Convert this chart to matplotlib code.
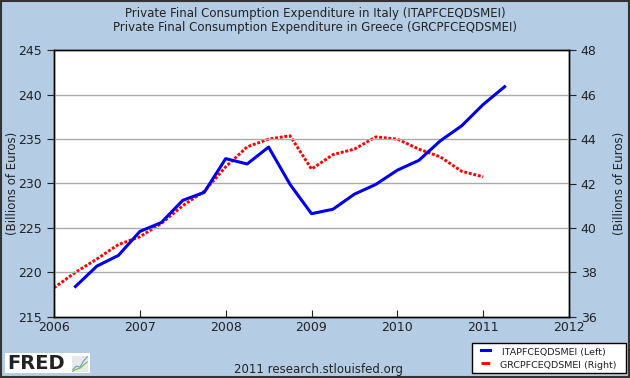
import matplotlib.pyplot as plt
from matplotlib.patches import Rectangle
from matplotlib.lines import Line2D

# quarterly dates (FRED plots at quarter start)
italy_dates = [2006.25, 2006.5, 2006.75, 2007.0, 2007.25, 2007.5, 2007.75,
               2008.0, 2008.25, 2008.5, 2008.75, 2009.0, 2009.25, 2009.5,
               2009.75, 2010.0, 2010.25, 2010.5, 2010.75, 2011.0, 2011.25]
italy = [218.4, 220.7, 221.9, 224.6, 225.6, 228.1, 229.0,
         232.8, 232.2, 234.1, 229.9, 226.6, 227.1, 228.8,
         229.9, 231.5, 232.6, 234.8, 236.5, 238.9, 240.9]

greece_dates = [2006.0, 2006.25, 2006.5, 2006.75, 2007.0, 2007.25, 2007.5,
                2007.75, 2008.0, 2008.25, 2008.5, 2008.75, 2009.0, 2009.25,
                2009.5, 2009.75, 2010.0, 2010.25, 2010.5, 2010.75, 2011.0]
greece = [37.3, 38.0, 38.6, 39.25, 39.6, 40.2, 41.0,
          41.65, 42.75, 43.65, 44.0, 44.15, 42.65, 43.3,
          43.55, 44.1, 44.0, 43.55, 43.2, 42.55, 42.3]

years = [2006, 2007, 2008, 2009, 2010, 2011, 2012]
left_ticks = [215, 220, 225, 230, 235, 240, 245]
right_ticks = [36, 38, 40, 42, 44, 46, 48]

bg = '#b4cde5'
txt = '#222222'

fig = plt.figure(figsize=(6.3, 3.78), dpi=100, facecolor=bg)
ax = fig.add_axes([54 / 630, 1 - 316.7 / 378, 515 / 630, 266.4 / 378])
ax2 = ax.twinx()

ax.set_xlim(2006, 2012)
ax.set_ylim(215, 245)
ax2.set_ylim(36, 48)
ax.set_xticks(years)
ax.set_yticks(left_ticks)
ax2.set_yticks(right_ticks)

for y in left_ticks[1:-1]:
    ax.axhline(y, color='#aaaaaa', lw=1, zorder=1)

ax.plot(italy_dates, italy, color='#0000ee', lw=2.2, zorder=3)
ax2.plot(greece_dates, greece, color='#ff0000', lw=2.1, ls=(0, (1, 0.6)), zorder=3)
ax.set_zorder(ax2.get_zorder() + 1)
ax.patch.set_visible(False)
ax2.patch.set_visible(True)
ax2.patch.set_facecolor('white')

for a in (ax, ax2):
    for s in a.spines.values():
        s.set_color('black')
        s.set_linewidth(1)
ax.tick_params(axis='x', direction='in', length=5, labelsize=9, colors=txt, pad=3)
ax.tick_params(axis='y', direction='out', length=5, labelsize=9, colors=txt)
ax2.tick_params(axis='y', direction='out', length=5, labelsize=9, colors=txt)

ax.set_ylabel('(Billions of Euros)', fontsize=8.5, color=txt)
ax.yaxis.set_label_coords((19 - 54) / 515, 0.5)
ax2.set_ylabel('(Billions of Euros)', fontsize=8.5, color=txt)
ax2.yaxis.set_label_coords((613 - 54) / 515, 0.5)

fig.text(0.5, 1 - 13 / 378, 'Private Final Consumption Expenditure in Italy (ITAPFCEQDSMEI)',
         ha='center', va='center', fontsize=8.5, color=txt)
fig.text(0.5, 1 - 27 / 378, 'Private Final Consumption Expenditure in Greece (GRCPFCEQDSMEI)',
         ha='center', va='center', fontsize=8.5, color=txt)
fig.text(319 / 630, 1 - 369 / 378, '2011 research.stlouisfed.org',
         ha='center', va='center', fontsize=8.5, color=txt)

# legend box
fig.patches.append(Rectangle((471.7 / 630, 1 - 373.3 / 378), 154 / 630, 30 / 378,
                             transform=fig.transFigure, facecolor='white',
                             edgecolor='black', lw=1))
fig.lines.append(Line2D([481 / 630, 490 / 630], [1 - 350 / 378] * 2,
                        transform=fig.transFigure, color='#0000ee', lw=2.2))
fig.lines.append(Line2D([481 / 630, 491 / 630], [1 - 363 / 378] * 2,
                        transform=fig.transFigure, color='#ff0000', lw=2.1,
                        ls=(0, (3, 2))))
fig.text(502 / 630, 1 - 353 / 378, 'ITAPFCEQDSMEI (Left)', fontsize=6.8, color=txt, va='center')
fig.text(500 / 630, 1 - 366 / 378, 'GRCPFCEQDSMEI (Right)', fontsize=6.8, color=txt, va='center')

# FRED logo
fig.patches.append(Rectangle((5 / 630, 1 - 373 / 378), 85 / 630, 20 / 378,
                             transform=fig.transFigure, facecolor='white', edgecolor='none'))
fig.text(7 / 630, 1 - 363.5 / 378, 'FRED', fontsize=14, fontweight='bold',
         color='#222222', va='center', ha='left')
icon = fig.add_axes([72 / 630, 1 - 372 / 378, 16 / 630, 16 / 378], zorder=5)
icon.set_facecolor('#e8e8e8')
icon.plot([0, 1, 2, 3, 4], [0.5, 1.2, 1.0, 2.2, 3.0], color='#6c9bd2', lw=0.8)
icon.plot([0, 1, 2, 3, 4], [0.2, 0.6, 0.8, 1.4, 2.0], color='#7ab648', lw=0.8)
icon.set_xticks([])
icon.set_yticks([])
for s in icon.spines.values():
    s.set_visible(False)

# outer border
fig.patches.append(Rectangle((0.001, 0.002), 0.997, 0.996, transform=fig.transFigure,
                             facecolor='none', edgecolor='#333333', lw=1.5))

fig.savefig('out.png', dpi=100, facecolor=bg)
